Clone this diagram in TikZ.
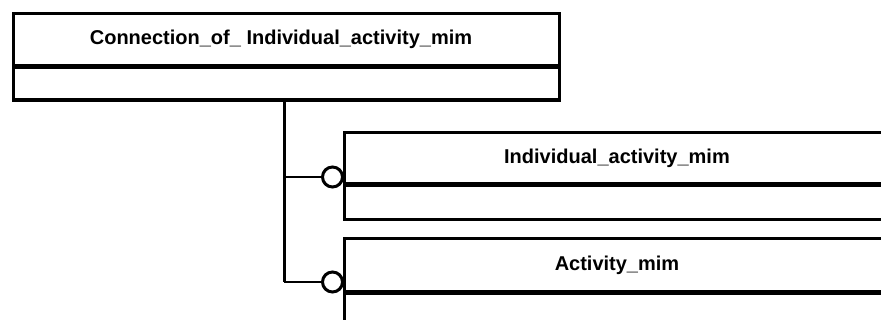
\documentclass[tikz,border=0pt]{standalone}
\usepackage{fontspec}
\setmainfont{Liberation Sans}
\begin{document}
\begin{tikzpicture}[x=1pt,y=-1pt,
  entbox/.style={draw, line width=3.2pt, minimum width=546pt, minimum height=86.5pt, anchor=north west, inner sep=0pt, fill=white},
  divider/.style={line width=5pt},
  label/.style={font=\fontsize{20}{24}\selectfont\bfseries, inner sep=0pt},
  conn/.style={line width=3pt},
  branch/.style={line width=2.6pt},
  ring/.style={circle, draw, line width=3pt, fill=white, minimum size=20pt, inner sep=0pt}]
\useasboundingbox (0,0) rectangle (881,320);
\clip (0,0) rectangle (881,320);
% top entity
\node[entbox] (top) at (12,12) {};
\draw[divider] (12,67) -- (558,67);
\node[label] (toplbl) at (281,39.5) {Connection\_of\_ Individual\_activity\_mim};
% second entity
\node[entbox, minimum height=87pt] (ind) at (343,131) {};
\draw[divider] (343,185) -- (889,185);
\node[label] (indlbl) at (617,158) {Individual\_activity\_mim};
% third entity
\node[entbox, minimum height=88pt] (act) at (343,237) {};
\draw[divider] (343,293) -- (889,293);
\node[label] (actlbl) at (617,265) {Activity\_mim};
% connectors
\node[ring] (c1) at (332.5,177) {};
\node[ring] (c2) at (332.5,282) {};
\coordinate (trunk) at (284,98.5);
\draw[conn] (trunk) -- (trunk |- c2.west);
\draw[branch] (trunk |- c1.west) -- (c1.west);
\draw[branch] (trunk |- c2.west) -- (c2.west);
\end{tikzpicture}
\end{document}
